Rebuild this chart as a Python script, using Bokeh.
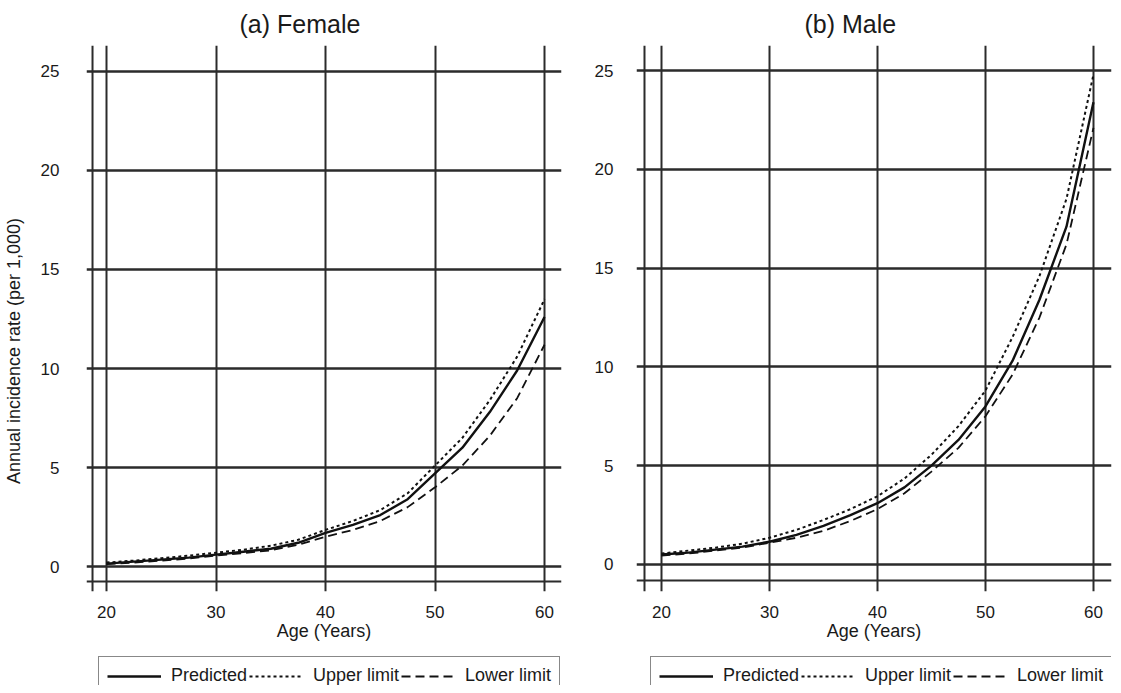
from bokeh.plotting import figure
from bokeh.layouts import row, column
from bokeh.models import Span, Legend, LegendItem, FixedTicker
from bokeh.embed import file_html
from bokeh.resources import INLINE

# ---- data ----
ages = [20, 22.5, 25, 27.5, 30, 32.5, 35, 37.5, 40, 42.5, 45, 47.5, 50, 52.5, 55, 57.5, 60]

female_pred = [0.15, 0.25, 0.35, 0.45, 0.6, 0.75, 0.9, 1.2, 1.7, 2.1, 2.6, 3.4, 4.7, 6.0, 7.8, 9.9, 12.6]
female_upper = [0.2, 0.3, 0.42, 0.55, 0.7, 0.85, 1.05, 1.35, 1.85, 2.3, 2.85, 3.7, 5.1, 6.5, 8.4, 10.6, 13.5]
female_lower = [0.12, 0.2, 0.3, 0.4, 0.55, 0.68, 0.82, 1.1, 1.5, 1.85, 2.3, 3.0, 4.0, 5.1, 6.6, 8.5, 11.2]

male_pred = [0.5, 0.6, 0.75, 0.9, 1.15, 1.5, 1.95, 2.5, 3.1, 3.9, 5.0, 6.3, 8.0, 10.3, 13.4, 17.1, 23.4]
male_upper = [0.55, 0.7, 0.85, 1.05, 1.35, 1.75, 2.25, 2.8, 3.45, 4.35, 5.55, 7.0, 8.8, 11.5, 14.6, 18.5, 24.8]
male_lower = [0.45, 0.55, 0.7, 0.85, 1.1, 1.35, 1.7, 2.2, 2.8, 3.6, 4.7, 5.9, 7.5, 9.6, 12.5, 16.2, 22.1]

x_ticks = [20, 30, 40, 50, 60]
y_ticks = [0, 5, 10, 15, 20, 25]
series_labels = ["Predicted", "Upper limit", "Lower limit"]
titles = ["(a) Female", "(b) Male"]
x_label = "Age (Years)"
y_label = "Annual incidence rate (per 1,000)"

FONT = "Liberation Sans"
INK = "#1a1a1a"
GRID = "#2b2b2b"
STYLES = [dict(line_color="#111111", line_width=2.4),
          dict(line_color="#111111", line_width=2, line_dash="3 3"),
          dict(line_color="#111111", line_width=1.8, line_dash="9 5")]
NBSP = "\u00a0"


def panel(title, series, bl, br, xr, yr, axis_x, axis_y,
          title_offset, tick_standoff, show_ylabel):
    p = figure(frame_width=475, frame_height=546, x_range=xr, y_range=yr,
               output_backend="svg", toolbar_location=None,
               min_border_left=bl, min_border_right=br,
               min_border_top=39, min_border_bottom=60)
    p.outline_line_color = None
    p.background_fill_color = "white"
    p.border_fill_color = "white"

    p.title.text = title
    p.title.align = "left"
    p.title.offset = title_offset
    p.title.text_font = FONT
    p.title.text_font_size = "25px"
    p.title.text_font_style = "normal"
    p.title.text_color = INK
    p.title.standoff = 15

    for ax in (p.xaxis[0], p.yaxis[0]):
        ax.axis_line_color = None
        ax.major_tick_line_color = None
        ax.minor_tick_line_color = None
        ax.major_label_text_font = FONT
        ax.major_label_text_font_size = "17px"
        ax.major_label_text_color = INK
        ax.axis_label_text_font = FONT
        ax.axis_label_text_font_style = "normal"
        ax.axis_label_text_color = INK
    p.xaxis.ticker = FixedTicker(ticks=x_ticks)
    p.yaxis.ticker = FixedTicker(ticks=y_ticks)
    p.xaxis.major_label_standoff = 8
    p.xaxis.axis_label = x_label
    p.xaxis.axis_label_text_font_size = "18px"
    p.xaxis.axis_label_standoff = 0
    p.yaxis.major_label_standoff = tick_standoff
    if show_ylabel:
        p.yaxis.axis_label = y_label + NBSP * 13
        p.yaxis.axis_label_text_font_size = "18px"
        p.yaxis.axis_label_standoff = 14

    p.xgrid.ticker = FixedTicker(ticks=x_ticks)
    p.ygrid.ticker = FixedTicker(ticks=y_ticks)
    p.xgrid.grid_line_color = GRID
    p.xgrid.grid_line_width = 2
    p.ygrid.grid_line_color = GRID
    p.ygrid.grid_line_width = 2.4

    p.add_layout(Span(location=axis_x, dimension="height", line_color=GRID, line_width=2))
    p.add_layout(Span(location=axis_y, dimension="width", line_color=GRID, line_width=2))

    for ys, st in zip(series, STYLES):
        p.line(ages, ys, **st)
    return p


def legend_strip(bl, br, x_off, series):
    # the legend sits in its own strip; the data lines here fall outside
    # the strip's range, so only the legend is seen
    q = figure(frame_width=475, frame_height=34, x_range=(0, 1), y_range=(0, 1),
               x_axis_type=None, y_axis_type=None,
               output_backend="svg", toolbar_location=None,
               min_border_left=bl, min_border_right=br,
               min_border_top=0, min_border_bottom=0)
    q.grid.visible = False
    q.outline_line_color = None
    rs = [q.line(ages, ys, **st) for ys, st in zip(series, STYLES)]
    leg = Legend(items=[LegendItem(label=lab, renderers=[r]) for lab, r in zip(series_labels, rs)],
                 orientation="horizontal", location=(x_off, -10), margin=0,
                 border_line_color="#111111", border_line_width=1.5,
                 glyph_width=54, glyph_height=20, label_standoff=10, spacing=2,
                 padding=8, label_text_font=FONT, label_text_font_size="18px",
                 label_text_color=INK, background_fill_color="white")
    q.add_layout(leg, "center")
    return q


fem = [female_pred, female_upper, female_lower]
mal = [male_pred, male_upper, male_lower]

pf = panel(titles[0], fem, bl=77, br=30, xr=(18.17, 61.55), yr=(-1.26, 26.31),
           axis_x=18.72, axis_y=-0.76, title_offset=153, tick_standoff=21,
           show_ylabel=True)
pm = panel(titles[1], mal, bl=40, br=5, xr=(17.69, 61.67), yr=(-1.37, 26.27),
           axis_x=18.43, axis_y=-0.81, title_offset=168, tick_standoff=17,
           show_ylabel=False)

lf = legend_strip(77, 30, 12, fem)
lm = legend_strip(40, 5, 14, mal)

layout = row(column(pf, lf), column(pm, lm))
open("out.html", "w").write(file_html(layout, INLINE))
